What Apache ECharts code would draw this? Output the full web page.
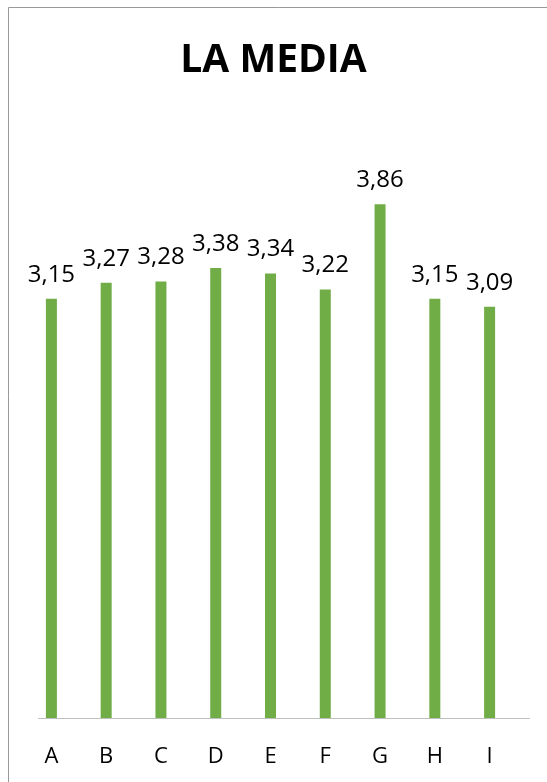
<!DOCTYPE html>
<html><head><meta charset="utf-8">
<script src="https://cdn.jsdelivr.net/npm/echarts@6/dist/echarts.min.js"></script>
<style>html,body{margin:0;padding:0;background:#fff}#c{width:547px;height:782px}</style>
</head><body><div id="c"></div>
<script>
const categories = ['A','B','C','D','E','F','G','H','I'];
const values = [3.15, 3.27, 3.28, 3.38, 3.34, 3.22, 3.86, 3.15, 3.09];
const titleText = 'LA MEDIA';

const chart = echarts.init(document.getElementById('c'), null, {renderer:'canvas'});
chart.setOption({
  animation:false,
  backgroundColor:'#fff',
  title:{text:titleText,left:'center',top:36,textStyle:{fontFamily:'Open Sans',fontWeight:'bold',fontSize:39,color:'#000'}},
  graphic:[
    {type:'rect',shape:{x:8.5,y:7.5,width:600,height:900},style:{fill:'none',stroke:'#999',lineWidth:1},silent:true},
    {type:'line',shape:{x1:38,y1:718.5,x2:530,y2:718.5},style:{stroke:'#bfbfbf',lineWidth:1},silent:true,z:10}
  ],
  grid:{left:24,right:30,top:119,bottom:64},
  xAxis:{type:'category',data:categories,axisLine:{show:false},axisTick:{show:false},
    axisLabel:{fontFamily:'Open Sans',fontSize:22,color:'#000',margin:28}},
  yAxis:{type:'value',min:0,max:4.5,show:false,splitLine:{show:false}},
  series:[{type:'bar',data:values,barWidth:11,itemStyle:{color:'#70ad47'},
    label:{show:true,position:'top',distance:12,fontFamily:'Open Sans',fontSize:24,color:'#000',
      formatter:p=>p.value.toFixed(2).replace('.',',')}}]
});
</script></body></html>
